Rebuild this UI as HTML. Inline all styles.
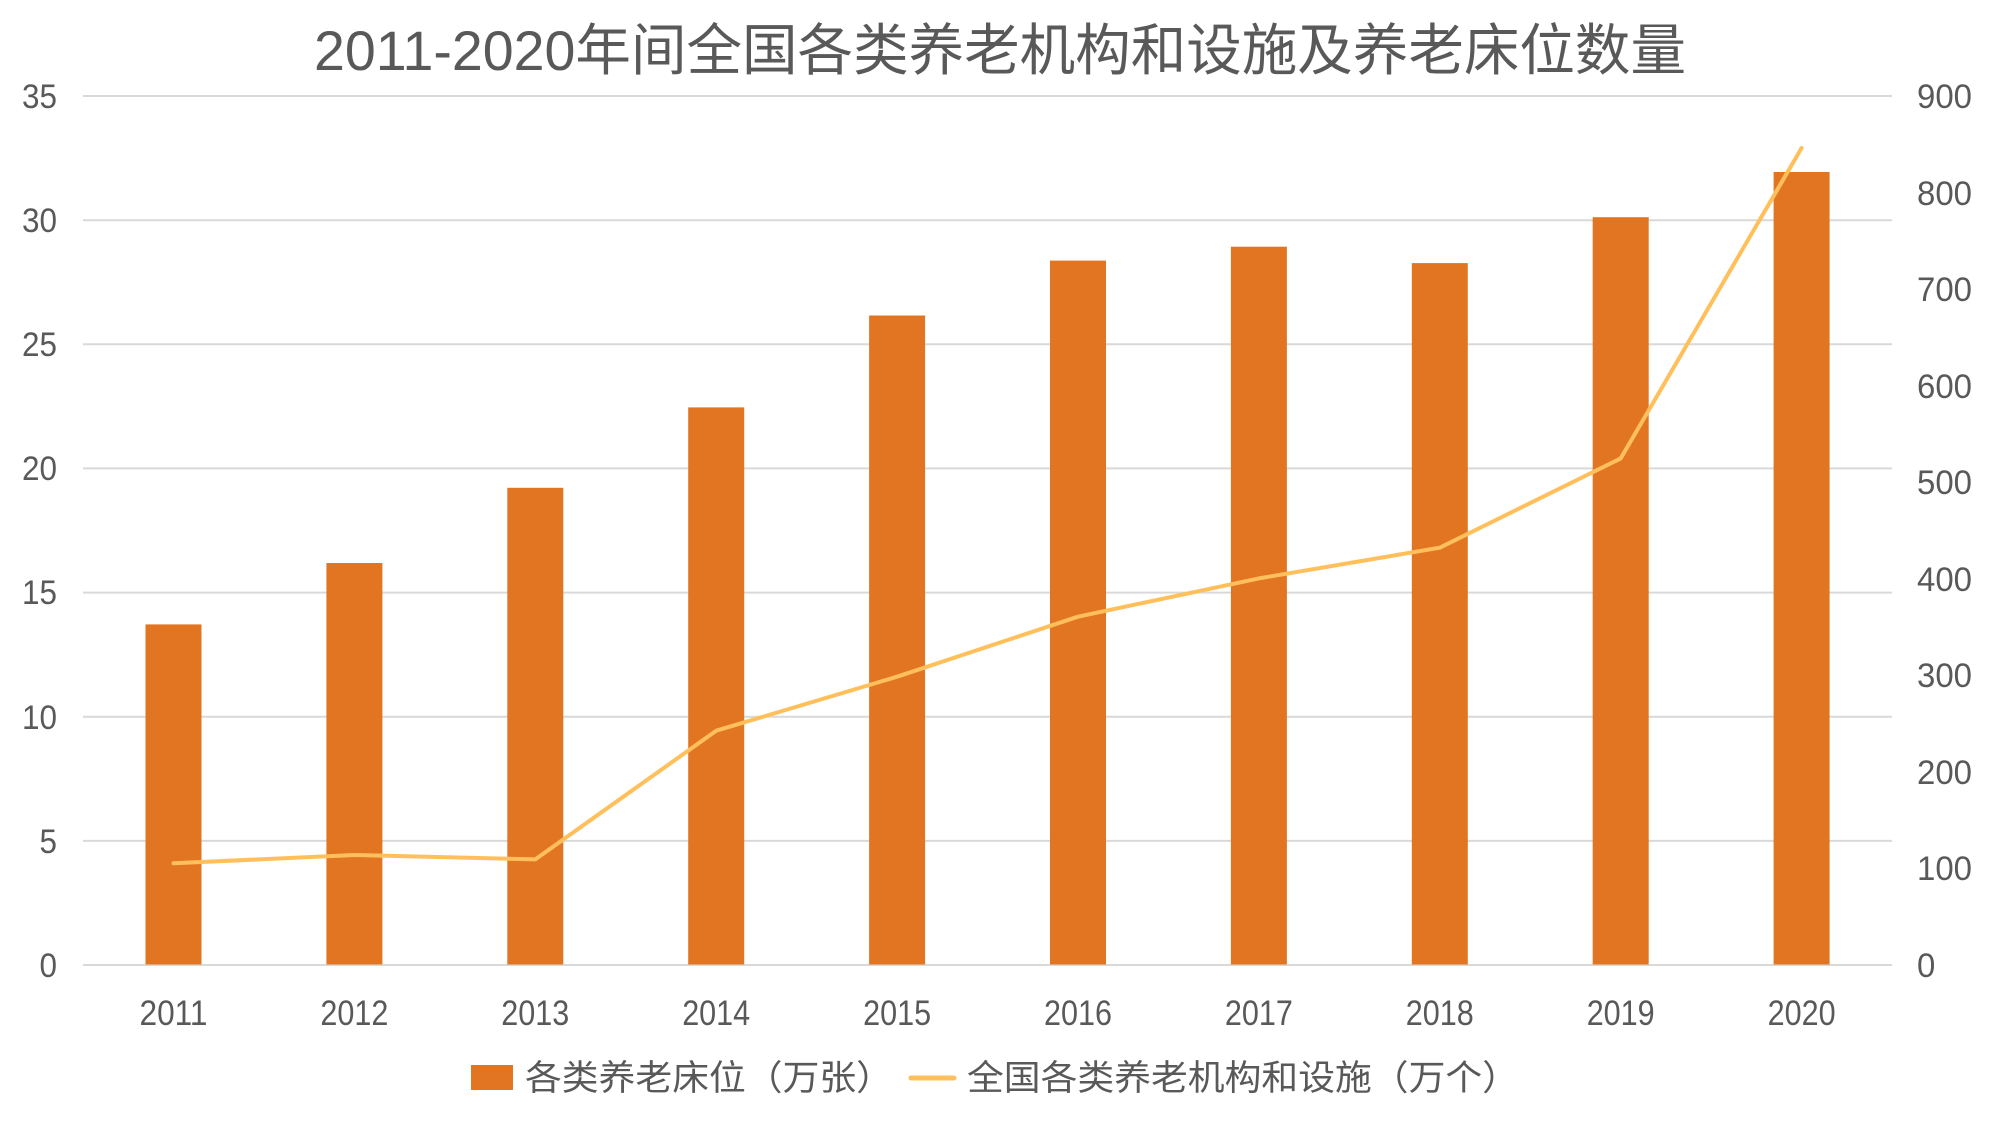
<!DOCTYPE html>
<html>
<head>
<meta charset="utf-8">
<style>
html,body{margin:0;padding:0;background:#fff;}
svg{display:block;}
text{font-family:"Liberation Sans","Noto Sans CJK SC",sans-serif;fill:#595959;}
</style>
</head>
<body>
<svg width="2001" height="1126" viewBox="0 0 2001 1126" xmlns="http://www.w3.org/2000/svg">
<rect x="0" y="0" width="2001" height="1126" fill="#fff"/>
<text x="314" y="70" font-size="56" textLength="1372" lengthAdjust="spacingAndGlyphs">2011-2020年间全国各类养老机构和设施及养老床位数量</text>
<g stroke="#D9D9D9" stroke-width="2">
<line x1="83" y1="96" x2="1892" y2="96"/>
<line x1="83" y1="220.2" x2="1892" y2="220.2"/>
<line x1="83" y1="344.3" x2="1892" y2="344.3"/>
<line x1="83" y1="468.4" x2="1892" y2="468.4"/>
<line x1="83" y1="592.6" x2="1892" y2="592.6"/>
<line x1="83" y1="716.7" x2="1892" y2="716.7"/>
<line x1="83" y1="840.9" x2="1892" y2="840.9"/>
<line x1="83" y1="965" x2="1892" y2="965"/>
</g>
<g fill="#E27522">
<rect x="145.5" y="624.4" width="56" height="340.1"/>
<rect x="326.4" y="563.0" width="56" height="401.5"/>
<rect x="507.3" y="487.8" width="56" height="476.7"/>
<rect x="688.2" y="407.4" width="56" height="557.1"/>
<rect x="869.1" y="315.5" width="56" height="649.0"/>
<rect x="1050" y="260.6" width="56" height="703.9"/>
<rect x="1230.9" y="246.7" width="56" height="717.8"/>
<rect x="1411.8" y="263.1" width="56" height="701.4"/>
<rect x="1592.7" y="217.2" width="56" height="747.3"/>
<rect x="1773.6" y="172.0" width="56" height="792.5"/>
</g>
<polyline fill="none" stroke="#FFC05C" stroke-width="4" stroke-linejoin="round" stroke-linecap="round"
points="173.5,863.3 354.4,855.0 535.3,859.4 716.2,730.7 897.1,676.7 1078,616.7 1258.9,578.4 1439.8,547.7 1620.7,458.4 1801.6,148.0"/>
<g font-size="34" text-anchor="end">
<text x="57" y="108" textLength="35" lengthAdjust="spacingAndGlyphs">35</text>
<text x="57" y="232" textLength="35" lengthAdjust="spacingAndGlyphs">30</text>
<text x="57" y="356" textLength="35" lengthAdjust="spacingAndGlyphs">25</text>
<text x="57" y="480" textLength="35" lengthAdjust="spacingAndGlyphs">20</text>
<text x="57" y="604" textLength="35" lengthAdjust="spacingAndGlyphs">15</text>
<text x="57" y="729" textLength="35" lengthAdjust="spacingAndGlyphs">10</text>
<text x="57" y="853" textLength="17.5" lengthAdjust="spacingAndGlyphs">5</text>
<text x="57" y="977" textLength="17.5" lengthAdjust="spacingAndGlyphs">0</text>
</g>
<g font-size="34">
<text x="1917" y="108" textLength="55" lengthAdjust="spacingAndGlyphs">900</text>
<text x="1917" y="205" textLength="55" lengthAdjust="spacingAndGlyphs">800</text>
<text x="1917" y="301" textLength="55" lengthAdjust="spacingAndGlyphs">700</text>
<text x="1917" y="398" textLength="55" lengthAdjust="spacingAndGlyphs">600</text>
<text x="1917" y="494" textLength="55" lengthAdjust="spacingAndGlyphs">500</text>
<text x="1917" y="591" textLength="55" lengthAdjust="spacingAndGlyphs">400</text>
<text x="1917" y="687" textLength="55" lengthAdjust="spacingAndGlyphs">300</text>
<text x="1917" y="784" textLength="55" lengthAdjust="spacingAndGlyphs">200</text>
<text x="1917" y="880" textLength="55" lengthAdjust="spacingAndGlyphs">100</text>
<text x="1917" y="977" textLength="18.3" lengthAdjust="spacingAndGlyphs">0</text>
</g>
<g font-size="35" text-anchor="middle">
<text x="173.5" y="1025" textLength="68" lengthAdjust="spacingAndGlyphs">2011</text>
<text x="354.4" y="1025" textLength="68" lengthAdjust="spacingAndGlyphs">2012</text>
<text x="535.3" y="1025" textLength="68" lengthAdjust="spacingAndGlyphs">2013</text>
<text x="716.2" y="1025" textLength="68" lengthAdjust="spacingAndGlyphs">2014</text>
<text x="897.1" y="1025" textLength="68" lengthAdjust="spacingAndGlyphs">2015</text>
<text x="1078" y="1025" textLength="68" lengthAdjust="spacingAndGlyphs">2016</text>
<text x="1258.9" y="1025" textLength="68" lengthAdjust="spacingAndGlyphs">2017</text>
<text x="1439.8" y="1025" textLength="68" lengthAdjust="spacingAndGlyphs">2018</text>
<text x="1620.7" y="1025" textLength="68" lengthAdjust="spacingAndGlyphs">2019</text>
<text x="1801.6" y="1025" textLength="68" lengthAdjust="spacingAndGlyphs">2020</text>
</g>
<rect x="471" y="1065" width="42" height="25" fill="#E27522"/>
<text x="525" y="1090" font-size="35" textLength="368" lengthAdjust="spacingAndGlyphs">各类养老床位（万张）</text>
<line x1="911" y1="1078" x2="954" y2="1078" stroke="#FFC05C" stroke-width="5" stroke-linecap="round"/>
<text x="967" y="1090" font-size="35" textLength="552" lengthAdjust="spacingAndGlyphs">全国各类养老机构和设施（万个）</text>
</svg>
</body>
</html>
